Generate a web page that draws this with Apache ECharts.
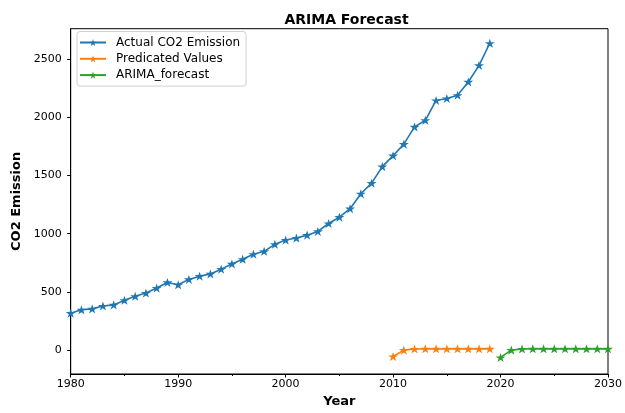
<!DOCTYPE html>
<html>
<head>
<meta charset="utf-8">
<script src="https://cdn.jsdelivr.net/npm/echarts@6/dist/echarts.min.js"></script>
<style>
  html, body { margin: 0; padding: 0; background: #fff; }
  #chart { width: 625px; height: 413px; }
</style>
</head>
<body>
<div id="chart"></div>
<script>
// Yearly CO2 emission, in-sample ARIMA predictions and out-of-sample forecast
const actualYears = [1980,1981,1982,1983,1984,1985,1986,1987,1988,1989,
                     1990,1991,1992,1993,1994,1995,1996,1997,1998,1999,
                     2000,2001,2002,2003,2004,2005,2006,2007,2008,2009,
                     2010,2011,2012,2013,2014,2015,2016,2017,2018,2019];
const actualValues = [318,347,355,380,389,429,463,491,534,582,
                      562,608,636,655,696,741,781,824,849,909,
                      946,963,988,1020,1088,1142,1215,1343,1434,1576,
                      1670,1769,1917,1974,2144,2161,2189,2303,2445,2635];

const predictedYears = [2010,2011,2012,2013,2014,2015,2016,2017,2018,2019];
const predictedValues = [-54,1,11,12,12,12,12,12,12,12];

const forecastYears = [2020,2021,2022,2023,2024,2025,2026,2027,2028,2029,2030];
const forecastValues = [-62,1,11,12,12,12,12,12,12,12,12];

const yTicks = [0,500,1000,1500,2000,2500];

const seriesNames = ['Actual CO2 Emission','Predicated Values','ARIMA_forecast'];
const seriesColors = ['#1f77b4','#ff7f0e','#2ca02c'];

// five-pointed star marker
const STAR = 'path://M50 0 L61.2 34.5 L97.6 34.5 L68.2 55.9 L79.4 90.5 L50 69.1 L20.6 90.5 L31.8 55.9 L2.4 34.5 L38.8 34.5 Z';

function pairs(xs, ys) { return xs.map((x, i) => [x, ys[i]]); }

function lineSeries(name, color, data) {
  return {
    name: name,
    type: 'line',
    data: data,
    symbol: STAR,
    symbolSize: [10, 9.5],
    symbolKeepAspect: true,
    showAllSymbol: true,
    itemStyle: { color: color },
    lineStyle: { color: color, width: 1.6 },
    emphasis: { disabled: true },
    clip: false
  };
}

const FONT = 'DejaVu Sans';
const chart = echarts.init(document.getElementById('chart'), null, { renderer: 'canvas' });
chart.setOption({
  animation: false,
  backgroundColor: '#fff',
  title: {
    text: 'ARIMA Forecast',
    left: 341.5,
    textAlign: 'center',
    top: 8,
    textStyle: { fontFamily: FONT, fontWeight: 'bold', fontSize: 14, color: '#000' }
  },
  legend: {
    orient: 'vertical',
    left: 77,
    top: 31.5,
    padding: [4, 6, 4, 2],
    itemWidth: 26,
    itemHeight: 9,
    itemGap: 2.3,
    backgroundColor: '#fff',
    borderColor: '#d0d0d0',
    borderWidth: 1,
    borderRadius: 3,
    data: seriesNames,
    textStyle: { fontFamily: FONT, fontSize: 12, color: '#000', padding: [0, 0, 0, 5], lineHeight: 14 }
  },
  grid: {
    left: 70.7,
    right: 12.7,
    top: 28.7,
    bottom: 36.3,
    show: true,
    borderColor: '#000',
    borderWidth: 1,
    backgroundColor: 'transparent'
  },
  xAxis: {
    type: 'value',
    min: 1980,
    max: 2030,
    interval: 10,
    name: 'Year',
    nameLocation: 'middle',
    nameGap: 21,
    nameTextStyle: { fontFamily: FONT, fontWeight: 'bold', fontSize: 13, color: '#000' },
    axisLine: { show: true, onZero: false, lineStyle: { color: '#000', width: 1 } },
    axisTick: { show: true, length: 3.5, lineStyle: { color: '#000' } },
    minorTick: { show: true, splitNumber: 2, length: 2, lineStyle: { color: '#000' } },
    axisLabel: { fontFamily: FONT, fontSize: 11, color: '#000', margin: 5, formatter: v => String(v) },
    splitLine: { show: false }
  },
  yAxis: {
    type: 'value',
    min: -204,
    max: 2760,
    name: 'CO2 Emission',
    nameLocation: 'middle',
    nameGap: 47,
    nameTextStyle: { fontFamily: FONT, fontWeight: 'bold', fontSize: 13, color: '#000' },
    axisLine: { show: true, onZero: false, lineStyle: { color: '#000', width: 1 } },
    axisTick: { show: true, length: 3.5, customValues: yTicks, lineStyle: { color: '#000' } },
    axisLabel: { fontFamily: FONT, fontSize: 11, color: '#000', margin: 9, customValues: yTicks, formatter: v => String(v) },
    splitLine: { show: false }
  },
  series: [
    lineSeries(seriesNames[0], seriesColors[0], pairs(actualYears, actualValues)),
    lineSeries(seriesNames[1], seriesColors[1], pairs(predictedYears, predictedValues)),
    lineSeries(seriesNames[2], seriesColors[2], pairs(forecastYears, forecastValues))
  ]
});
</script>
</body>
</html>
